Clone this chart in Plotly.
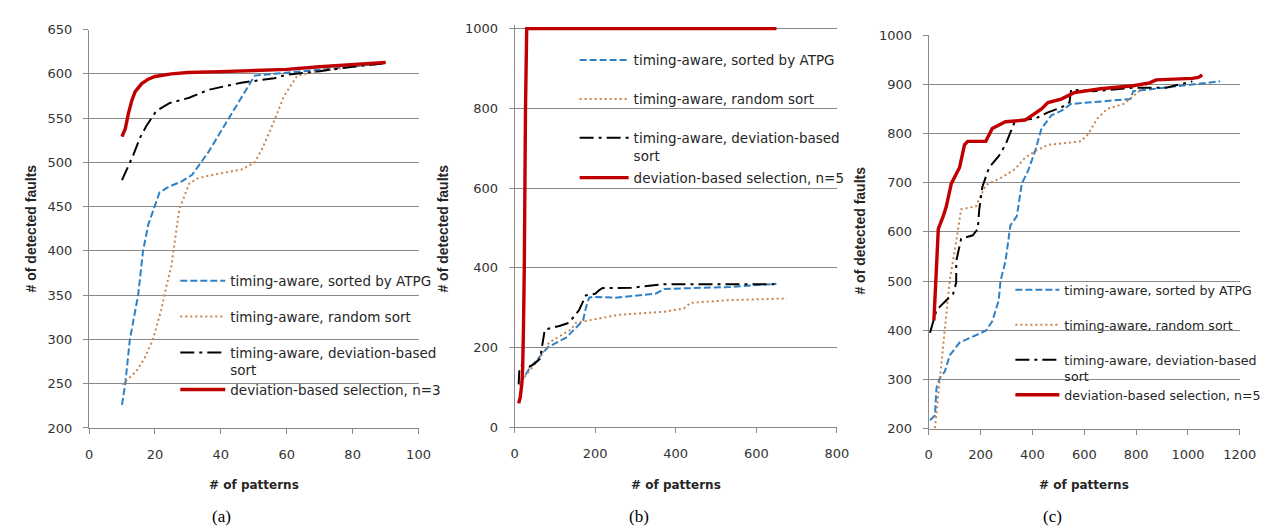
import plotly.graph_objects as go

W, H = 1281, 529

# ---------------- data ----------------
names = ["timing-aware, sorted by ATPG",
         "timing-aware, random sort",
         "timing-aware, deviation-based<br>sort"]
sel_a = "deviation-based selection, n=3"
sel_b = "deviation-based selection, n=5"
sel_c = "deviation-based selection, n=5"

# panel (a)
a_atpg_x = [10, 11, 12.4, 14.9, 16.4, 18, 19.9, 21.4, 24, 28.4, 31.3, 36.3, 42.3, 50.3, 56.2, 66, 80, 90]
a_atpg_y = [226, 250, 300, 350, 400, 430, 450, 466, 472, 479, 486, 512, 549, 598, 600, 603, 608, 613]
a_rand_x = [10, 14.4, 17, 19.4, 21.9, 23.4, 24.9, 27.4, 30.4, 33, 36.3, 46.3, 50.3, 52.5, 55.2, 59.2, 63.2, 70, 80, 90]
a_rand_y = [249, 264, 280, 300, 333, 359, 381, 447, 476, 482, 485, 492, 500, 515, 538, 575, 598, 603, 608, 612]
a_dev_x = [10, 13.4, 15.5, 17.4, 20.4, 24.4, 30.4, 36.3, 46.2, 56.2, 60, 70, 80, 90]
a_dev_y = [480, 508, 528, 541, 558, 567, 573, 582, 590, 595, 599, 603, 608, 612]
a_sel_x = [10, 11, 12, 13, 14, 16, 18, 20, 25, 30, 40, 50, 60, 70, 80, 90]
a_sel_y = [529, 538, 556, 570, 580, 589, 594, 597, 600, 601.5, 602.5, 603.5, 605, 608, 610.5, 613]

# panel (b)
b_atpg_x = [15, 20, 37, 63, 83, 128, 160, 170, 177, 185, 193, 250, 350, 372, 535, 650]
b_atpg_y = [110, 120, 148, 177, 201, 225, 258, 268, 300, 325, 327, 325, 335, 347, 352, 360]
b_rand_x = [12, 20, 55, 86, 128, 140, 152, 193, 258, 372, 420, 437, 534, 676]
b_rand_y = [105, 120, 165, 213, 238, 245, 262, 269, 282, 290, 298, 312, 319, 323]
b_dev_x = [10, 12, 17, 37, 50, 63, 75, 111, 135, 160, 177, 200, 209, 217, 290, 340, 372, 648]
b_dev_y = [108, 150, 155, 152, 160, 172, 245, 254, 262, 294, 331, 335, 343, 349, 350, 355, 359, 359]
b_sel_x = [10, 14, 18, 20, 22, 24, 27, 30, 650]
b_sel_y = [60, 75, 110, 150, 250, 400, 800, 1000, 1000]

# panel (c)
c_atpg_x = [5, 24, 30, 43, 62, 81, 119, 182, 220, 245, 270, 277, 296, 315, 340, 359, 384, 410, 435, 473, 511, 549, 600, 777, 789, 915, 1124]
c_atpg_y = [217, 227, 283, 303, 316, 349, 375, 389, 399, 418, 461, 501, 540, 613, 632, 698, 725, 764, 810, 837, 846, 860, 862, 870, 886, 893, 906]
c_rand_x = [24, 43, 68, 81, 106, 125, 182, 220, 283, 334, 372, 410, 460, 587, 612, 650, 688, 751, 789, 840]
c_rand_y = [201, 303, 428, 501, 580, 646, 652, 695, 711, 728, 751, 764, 777, 784, 797, 830, 850, 860, 876, 899]
c_dev_x = [5, 30, 68, 94, 106, 106, 125, 170, 189, 195, 207, 233, 270, 296, 321, 334, 410, 460, 511, 543, 549, 638, 789, 915, 1017]
c_dev_y = [395, 441, 461, 474, 497, 540, 586, 593, 606, 646, 692, 731, 754, 777, 810, 827, 830, 843, 853, 863, 889, 886, 893, 893, 906]
c_sel_x = [20, 25, 30, 37, 56, 68, 87, 119, 138, 150, 220, 245, 296, 372, 435, 460, 511, 561, 663, 789, 852, 877, 1017, 1040, 1055]
c_sel_y = [420, 470, 507, 606, 632, 652, 698, 731, 777, 784, 784, 810, 824, 827, 850, 863, 870, 883, 891, 897, 903, 909, 912, 914, 919]

x_ticks_a = [0, 20, 40, 60, 80, 100]
y_ticks_a = [200, 250, 300, 350, 400, 450, 500, 550, 600, 650]
x_ticks_b = [0, 200, 400, 600, 800]
y_ticks_b = [0, 200, 400, 600, 800, 1000]
x_ticks_c = [0, 200, 400, 600, 800, 1000, 1200]
y_ticks_c = [200, 300, 400, 500, 600, 700, 800, 900, 1000]

# ---------------- styles ----------------
BLUE = "#2F80C4"
BROWN = "#C8834E"
BLACK = "#000000"
RED = "#C00000"
styles = [
    dict(color=BLUE, width=2, dash="7px,3px"),
    dict(color=BROWN, width=2, dash="2px,3px"),
    dict(color=BLACK, width=2, dash="14px,5px,3px,5px"),
    dict(color=RED, width=3.4, dash="solid"),
]

def px(x):
    return x / W

def py(y):
    return 1 - y / H

fig = go.Figure()

# (axes, series, selection label, legend sample left px, legend row centres px, sample width, font size)
panels = [
    ("x", "y", [(a_atpg_x, a_atpg_y), (a_rand_x, a_rand_y), (a_dev_x, a_dev_y), (a_sel_x, a_sel_y)], sel_a,
     171, [273, 310, 347, 385], 45, 13.5),
    ("x2", "y2", [(b_atpg_x, b_atpg_y), (b_rand_x, b_rand_y), (b_dev_x, b_dev_y), (b_sel_x, b_sel_y)], sel_b,
     577, [46, 86, 126, 167], 49, 13.5),
    ("x3", "y3", [(c_atpg_x, c_atpg_y), (c_rand_x, c_rand_y), (c_dev_x, c_dev_y), (c_sel_x, c_sel_y)], sel_c,
     1020, [283, 319, 355, 391], 44, 12.6),
]

leg_layout = {}
k = 0
for xa, ya, series, seln, legx, legys, iw, fs in panels:
    labels = names + [seln]
    for i, (xs, ys) in enumerate(series):
        k += 1
        lname = "legend" if k == 1 else f"legend{k}"
        fig.add_trace(go.Scatter(x=xs, y=ys, mode="lines", name=labels[i],
                                 line=dict(**styles[i]), xaxis=xa, yaxis=ya,
                                 legend=lname, showlegend=True))
        leg_layout[lname] = dict(
            x=px(legx - 5), y=py(legys[i] - 15.3), xanchor="left", yanchor="top",
            bgcolor="rgba(0,0,0,0)", borderwidth=0, itemwidth=iw, valign="top",
            font=dict(family="DejaVu Sans", size=fs, color="#262626"),
            itemclick=False, itemdoubleclick=False,
        )

tickfont = dict(family="DejaVu Sans", size=13, color="#333333")
GRID = "#8A8A8A"

def xaxis(dom, rng, ticks, anchor):
    return dict(domain=dom, range=rng, tickvals=ticks, anchor=anchor, showgrid=False,
                zeroline=False, showline=True, linecolor=GRID, linewidth=1,
                ticks="outside", ticklen=5, tickcolor=GRID, tickfont=tickfont,
                ticklabelstandoff=9, fixedrange=True)

def yaxis(dom, rng, ticks, anchor):
    return dict(domain=dom, range=rng, tickvals=ticks, anchor=anchor, showgrid=True,
                gridcolor=GRID, gridwidth=1, zeroline=False, showline=True,
                linecolor=GRID, linewidth=1, ticks="outside", ticklen=5,
                tickcolor=GRID, tickfont=tickfont, ticklabelstandoff=8, fixedrange=True)

layout = dict(
    width=W, height=H, margin=dict(l=0, r=0, t=0, b=0),
    paper_bgcolor="white", plot_bgcolor="white",
    xaxis=xaxis([px(78.3), px(413.3)], [0, 100], x_ticks_a, "y"),
    yaxis=yaxis([py(425), py(15)], [200, 650], y_ticks_a, "x"),
    xaxis2=xaxis([px(511), px(838.6)], [0, 800], x_ticks_b, "y2"),
    yaxis2=yaxis([py(424.3), py(9.9)], [0, 1010], y_ticks_b, "x2"),
    xaxis3=xaxis([px(932), px(1248.3)], [0, 1200], x_ticks_c, "y3"),
    yaxis3=yaxis([py(425.7), py(20.7)], [200, 1000], y_ticks_c, "x3"),
    showlegend=True,
)
layout.update(leg_layout)
fig.update_layout(**layout)

xt_font = dict(family="DejaVu Sans", size=12, color="#262626")
yt_font = dict(family="Liberation Sans", size=14, color="#262626")
cap_font = dict(family="Liberation Serif", size=17, color="#000000")

ann = []
for cx in [246, 675, 1090]:
    ann.append(dict(text="<b># of patterns</b>", x=px(cx), y=py(484), xref="paper", yref="paper",
                    showarrow=False, font=xt_font, xanchor="center", yanchor="middle"))
for cx, cy in [(19, 220), (438, 220), (862, 222)]:
    ann.append(dict(text="<b># of detected faults</b>", x=px(cx), y=py(cy), xref="paper", yref="paper",
                    showarrow=False, font=yt_font, textangle=-90, xanchor="center", yanchor="middle"))
for cx, t in [(213, "(a)"), (637, "(b)"), (1058, "(c)")]:
    ann.append(dict(text=t, x=px(cx), y=py(516), xref="paper", yref="paper",
                    showarrow=False, font=cap_font, xanchor="center", yanchor="middle"))
fig.update_layout(annotations=ann)

fig.write_html("out.html", config={"displayModeBar": False})
